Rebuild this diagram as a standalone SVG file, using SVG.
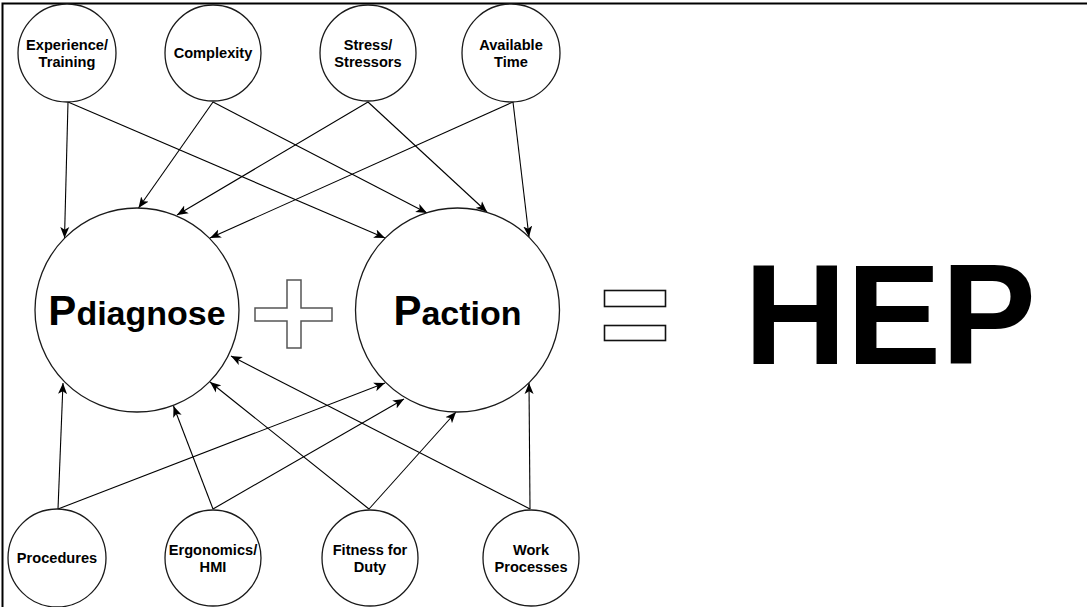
<svg xmlns="http://www.w3.org/2000/svg" width="1087" height="607" viewBox="0 0 1087 607">
<defs>
<marker id="arr" markerUnits="userSpaceOnUse" markerWidth="12" markerHeight="10" viewBox="0 0 12 10" refX="11" refY="5" orient="auto">
<path d="M0,0.5 L11,5 L0,9.5 L2.8,5 Z" fill="#000"/>
</marker>
<style>
.n{fill:#fff;stroke:#1a1a1a;stroke-width:1.3}
.t{font-family:"Liberation Sans",Arial,Helvetica,sans-serif;font-weight:bold;font-size:14.6px;fill:#000;text-anchor:middle}
.b{font-family:"Liberation Sans",Arial,Helvetica,sans-serif;font-weight:bold;fill:#000}
.c{stroke:#000;stroke-width:1.1;fill:none;marker-end:url(#arr)}
.sym{fill:#fff;stroke:#555;stroke-width:1.5}
</style>
</defs>
<rect x="2.5" y="3.5" width="1200" height="700" fill="#fff" stroke="#000" stroke-width="2"/>
<g id="connectors">
<line class="c" x1="68" y1="102" x2="64.5" y2="238"/>
<line class="c" x1="68" y1="102" x2="385" y2="238"/>
<line class="c" x1="213" y1="102" x2="138.5" y2="208"/>
<line class="c" x1="213" y1="102" x2="427" y2="213"/>
<line class="c" x1="368" y1="102" x2="177" y2="215"/>
<line class="c" x1="368" y1="102" x2="487" y2="212"/>
<line class="c" x1="513" y1="102" x2="210" y2="238"/>
<line class="c" x1="513" y1="102" x2="529" y2="237"/>
<line class="c" x1="58" y1="509" x2="63" y2="383"/>
<line class="c" x1="58" y1="509" x2="385" y2="383"/>
<line class="c" x1="213" y1="509" x2="173.5" y2="406"/>
<line class="c" x1="213" y1="509" x2="404" y2="399"/>
<line class="c" x1="369" y1="509" x2="210" y2="382"/>
<line class="c" x1="369" y1="509" x2="456" y2="412"/>
<line class="c" x1="530" y1="509" x2="231" y2="356"/>
<line class="c" x1="530" y1="509" x2="529" y2="383"/>
</g>
<g id="experience">
<circle class="n" cx="67" cy="53" r="49"/>
<text class="t" x="67" y="49.5">Experience/</text>
<text class="t" x="67" y="66.5">Training</text>
</g>
<g id="complexity">
<circle class="n" cx="213" cy="53" r="48"/>
<text class="t" x="213" y="58">Complexity</text>
</g>
<g id="stress">
<circle class="n" cx="368" cy="53" r="48"/>
<text class="t" x="368" y="49.5">Stress/</text>
<text class="t" x="368" y="66.5">Stressors</text>
</g>
<g id="available-time">
<circle class="n" cx="511" cy="53" r="49"/>
<text class="t" x="511" y="49.5">Available</text>
<text class="t" x="511" y="66.5">Time</text>
</g>
<g id="pdiagnose">
<circle class="n" cx="137" cy="310" r="102"/>
<text class="b" x="137" y="325" text-anchor="middle"><tspan font-size="42">P</tspan><tspan font-size="34">diagnose</tspan></text>
</g>
<g id="paction">
<circle class="n" cx="457.5" cy="310" r="102"/>
<text class="b" x="457.5" y="325" text-anchor="middle"><tspan font-size="42">P</tspan><tspan font-size="34">action</tspan></text>
</g>
<g id="plus">
<path class="sym" d="M287,280 H301 V308 H332 V321 H301 V348 H287 V321 H255 V308 H287 Z"/>
</g>
<g id="equals">
<rect x="604.5" y="290.5" width="61" height="16" fill="#fff" stroke="#111" stroke-width="1.6"/>
<rect x="604.5" y="325.5" width="61" height="15" fill="#fff" stroke="#111" stroke-width="1.6"/>
</g>
<g id="hep">
<text class="b" x="744" y="364" font-size="142">HEP</text>
</g>
<g id="procedures">
<circle class="n" cx="57" cy="558" r="49"/>
<text class="t" x="57" y="563">Procedures</text>
</g>
<g id="ergonomics">
<circle class="n" cx="213" cy="558" r="48"/>
<text class="t" x="213" y="554.5">Ergonomics/</text>
<text class="t" x="213" y="571.5">HMI</text>
</g>
<g id="fitness">
<circle class="n" cx="370" cy="558" r="48"/>
<text class="t" x="370" y="554.5">Fitness for</text>
<text class="t" x="370" y="571.5">Duty</text>
</g>
<g id="work-processes">
<circle class="n" cx="531" cy="558" r="48"/>
<text class="t" x="531" y="554.5">Work</text>
<text class="t" x="531" y="571.5">Processes</text>
</g>
</svg>
